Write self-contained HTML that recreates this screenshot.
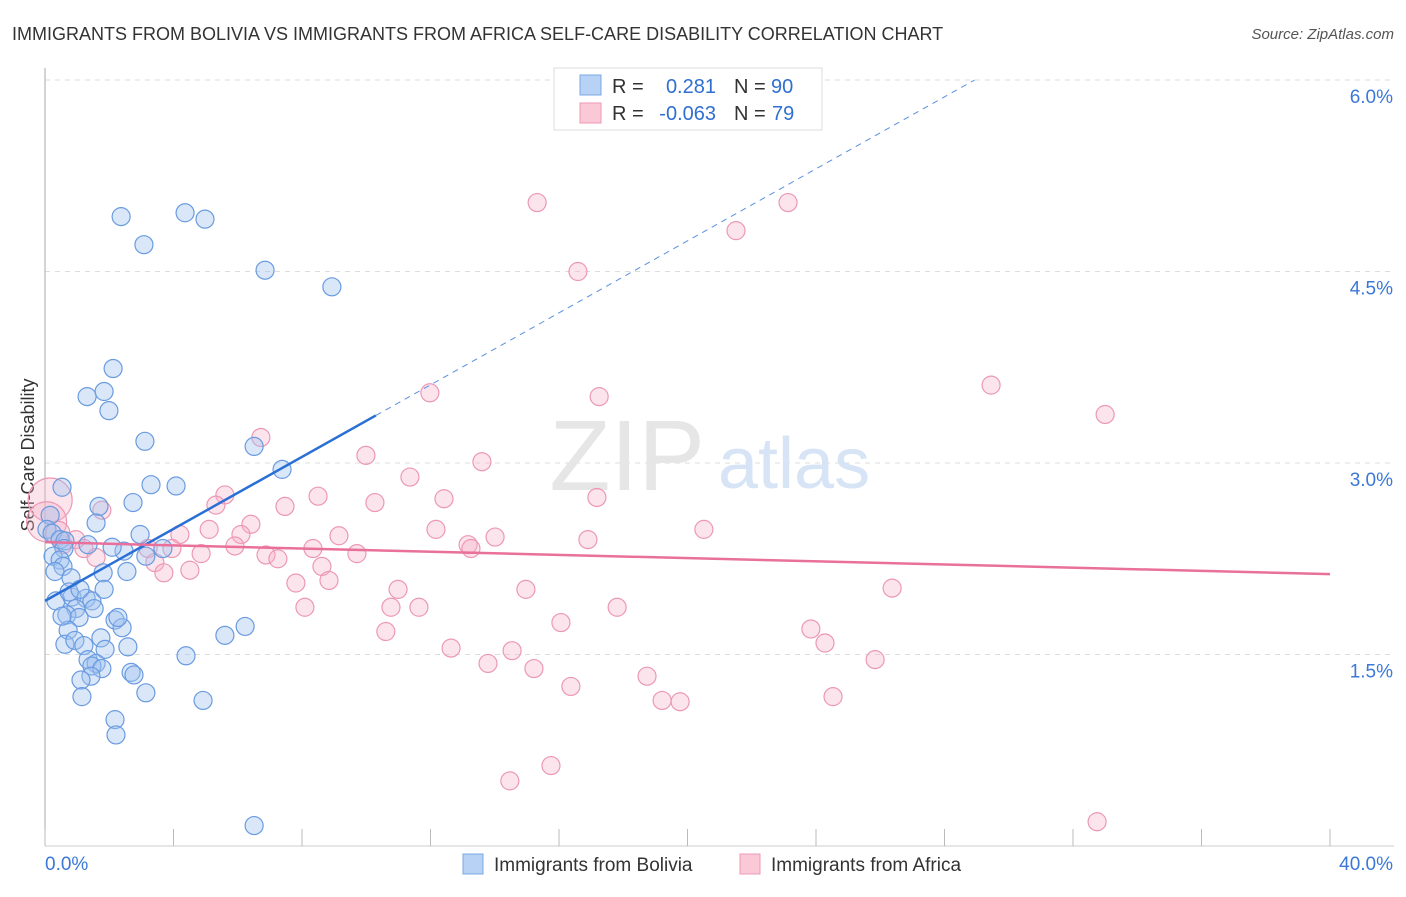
<!DOCTYPE html>
<html><head><meta charset="utf-8"><style>
body{margin:0;background:#fff;font-family:"Liberation Sans",sans-serif;}
svg text{font-family:"Liberation Sans",sans-serif;}
</style></head><body>
<svg width="1406" height="892" viewBox="0 0 1406 892">
<text x="12" y="40" font-size="18" fill="#333">IMMIGRANTS FROM BOLIVIA VS IMMIGRANTS FROM AFRICA SELF-CARE DISABILITY CORRELATION CHART</text>
<text x="1394" y="39" font-size="15" fill="#555" text-anchor="end" font-style="italic">Source: ZipAtlas.com</text>
<g id="grid"></g>
<text x="705" y="490" font-size="100" fill="#e6e6e6" text-anchor="end" font-family="Liberation Serif">ZIP</text>
<text x="718" y="488" font-size="72" fill="#d6e4f5">atlas</text>
<text x="34" y="455" font-size="18" fill="#333" text-anchor="middle" transform="rotate(-90 34 455)">Self-Care Disability</text>
<g id="pts"></g>
<g id="lines"></g>
<g>
<rect x="554" y="68" width="268" height="62" fill="#fff" stroke="#ddd"/>
<rect x="580" y="75" width="21" height="20" fill="#b7d2f4" stroke="#7aa8e6"/>
<rect x="580" y="103" width="21" height="20" fill="#fac8d6" stroke="#ee98b2"/>
<text x="612" y="93" font-size="20" fill="#333">R =</text>
<text x="716" y="93" font-size="20" fill="#2f6fd0" text-anchor="end">0.281</text>
<text x="734" y="93" font-size="20" fill="#333">N =</text>
<text x="771" y="93" font-size="20" fill="#2f6fd0">90</text>
<text x="612" y="120" font-size="20" fill="#333">R =</text>
<text x="716" y="120" font-size="20" fill="#2f6fd0" text-anchor="end">-0.063</text>
<text x="734" y="120" font-size="20" fill="#333">N =</text>
<text x="772" y="120" font-size="20" fill="#2f6fd0">79</text>
</g>
<g>
<rect x="463" y="854" width="20" height="20" fill="#b7d2f4" stroke="#7aa8e6"/>
<text x="494" y="871" font-size="19" fill="#333">Immigrants from Bolivia</text>
<rect x="740" y="854" width="20" height="20" fill="#fac8d6" stroke="#ee98b2"/>
<text x="771" y="871" font-size="19" fill="#333">Immigrants from Africa</text>
</g>
</svg>
<script>
const yTicks=[1.5,3.0,4.5,6.0];
const yTickLabels=["1.5%","3.0%","4.5%","6.0%"];
const xTickValues=[0,4,8,12,16,20,24,28,32,36,40];
const xLabels=["0.0%","40.0%"];
const blueX=[2.37,4.36,4.98,3.08,6.85,8.93,2.12,1.84,1.31,1.99,3.11,6.51,7.38,3.30,4.08,0.53,1.68,2.74,1.59,2.96,0.16,0.06,0.22,0.47,0.62,0.59,3.67,2.46,3.14,0.25,0.47,0.56,0.31,2.55,1.81,0.81,0.34,0.84,1.28,1.46,0.96,0.68,1.06,1.53,2.18,2.40,6.23,5.60,0.72,0.62,0.93,1.74,1.21,1.87,2.58,4.39,1.34,1.59,1.46,1.77,2.68,2.77,1.43,1.12,3.14,1.15,4.92,2.18,2.21,6.51,1.34,2.09,0.75,1.09,1.84,0.53,2.27];
const blueY=[4.93,4.96,4.91,4.71,4.51,4.38,3.74,3.56,3.52,3.41,3.17,3.13,2.95,2.83,2.82,2.81,2.66,2.69,2.53,2.44,2.59,2.48,2.45,2.40,2.39,2.33,2.33,2.31,2.27,2.27,2.24,2.19,2.15,2.15,2.14,2.10,1.92,1.95,1.94,1.92,1.86,1.81,1.79,1.86,1.77,1.71,1.72,1.65,1.69,1.58,1.61,1.63,1.57,1.54,1.56,1.49,1.46,1.43,1.41,1.39,1.36,1.34,1.33,1.30,1.20,1.17,1.14,0.99,0.87,0.16,2.36,2.34,1.99,2.01,2.01,1.80,1.79];
const pinkX=[15.32,23.13,21.51,16.59,29.45,11.98,17.25,33.00,6.72,9.99,13.60,11.36,8.50,5.60,10.27,12.42,5.32,7.47,17.18,1.77,6.41,20.51,4.20,12.17,5.11,9.15,14.01,6.10,16.90,0.96,0.56,13.17,13.26,1.21,5.91,8.34,3.21,3.95,9.71,6.88,7.25,1.59,4.86,8.62,3.42,4.51,3.70,8.84,7.81,10.99,14.97,26.37,8.09,10.77,11.64,17.81,16.06,23.84,10.61,24.28,12.64,14.54,25.84,13.79,15.22,18.74,16.37,24.53,19.21,19.77,15.75,14.47,32.75,0.16,0.05,0.4];
const pinkY=[5.04,5.04,4.82,4.50,3.61,3.55,3.52,3.38,3.20,3.06,3.01,2.89,2.74,2.75,2.69,2.72,2.67,2.66,2.73,2.63,2.52,2.48,2.44,2.48,2.48,2.43,2.42,2.44,2.40,2.40,2.36,2.36,2.33,2.33,2.35,2.33,2.33,2.33,2.29,2.28,2.25,2.26,2.29,2.19,2.22,2.16,2.14,2.08,2.06,2.01,2.01,2.02,1.87,1.87,1.87,1.87,1.75,1.70,1.68,1.59,1.55,1.53,1.46,1.43,1.39,1.33,1.25,1.17,1.14,1.13,0.63,0.51,0.19,2.71,2.54,2.45];
const pinkR=[9,9,9,9,9,9,9,9,9,9,9,9,9,9,9,9,9,9,9,9,9,9,9,9,9,9,9,9,9,9,9,9,9,9,9,9,9,9,9,9,9,9,9,9,9,9,9,9,9,9,9,9,9,9,9,9,9,9,9,9,9,9,9,9,9,9,9,9,9,9,9,9,9,22,20,12];
const blueTrend=[1.92,0.141];
const pinkTrend=[2.38,-0.00625];
const NS="http://www.w3.org/2000/svg";
const X0=45,X1=1330,Y0=846,YT=80;
const sx=v=>X0+(v/40)*(X1-X0);
const sy=v=>Y0-(v/6)*(Y0-YT);
function mk(t,a,p){const e=document.createElementNS(NS,t);for(const k in a)e.setAttribute(k,a[k]);p.appendChild(e);return e;}
const grid=document.getElementById('grid');
yTicks.forEach((v,i)=>{
  const l=mk('line',{x1:X0,x2:1394,y1:sy(v),y2:sy(v),stroke:'#ddd','stroke-dasharray':'5,5'},grid);
  
  
  const t=mk('text',{x:1393,y:sy(v)+23,'font-size':19,fill:'#3b78d8','text-anchor':'end'},grid);
  t.textContent=yTickLabels[i];
  
  
});
const ax=mk('line',{x1:X0,x2:X0,y1:68,y2:Y0,stroke:'#aaa'},grid);


const bx=mk('line',{x1:X0,x2:1394,y1:Y0,y2:Y0,stroke:'#ccc'},grid);


xTickValues.forEach(v=>{
  const l=mk('line',{x1:sx(v),x2:sx(v),y1:Y0-17,y2:Y0,stroke:'#bbb'},grid);
  
  
});
const xl0=mk('text',{x:45,y:870,'font-size':19,fill:'#3b78d8'},grid);xl0.textContent=xLabels[0];


const xl1=mk('text',{x:1393,y:870,'font-size':19,fill:'#3b78d8','text-anchor':'end'},grid);xl1.textContent=xLabels[1];


const pts=document.getElementById('pts');
pinkX.forEach((v,i)=>{
  const c=mk('circle',{cx:sx(v),cy:sy(pinkY[i]),r:pinkR[i],fill:'rgba(246,178,200,0.35)',stroke:'#ec98b4','stroke-width':1.2},pts);
  
  
});
blueX.forEach((v,i)=>{
  const c=mk('circle',{cx:sx(v),cy:sy(blueY[i]),r:9,fill:'rgba(160,196,240,0.4)',stroke:'#6a9be0','stroke-width':1.2},pts);
  
  
});
const lines=document.getElementById('lines');
const bt=v=>blueTrend[0]+blueTrend[1]*v;
const xs=10.3,xe=(6-blueTrend[0])/blueTrend[1];
const b1=mk('line',{x1:sx(0),y1:sy(bt(0)),x2:sx(xs),y2:sy(bt(xs)),stroke:'#2a6fd6','stroke-width':2.5},lines);


const b2=mk('line',{x1:sx(xs),y1:sy(bt(xs)),x2:sx(xe),y2:sy(bt(xe)),stroke:'#5a8fe0','stroke-width':1,'stroke-dasharray':'6,5'},lines);


const pt=v=>pinkTrend[0]+pinkTrend[1]*v;
const p1=mk('line',{x1:sx(0),y1:sy(pt(0)),x2:sx(40),y2:sy(pt(40)),stroke:'#e8709a','stroke-width':2.5},lines);


</script>
</body></html>
